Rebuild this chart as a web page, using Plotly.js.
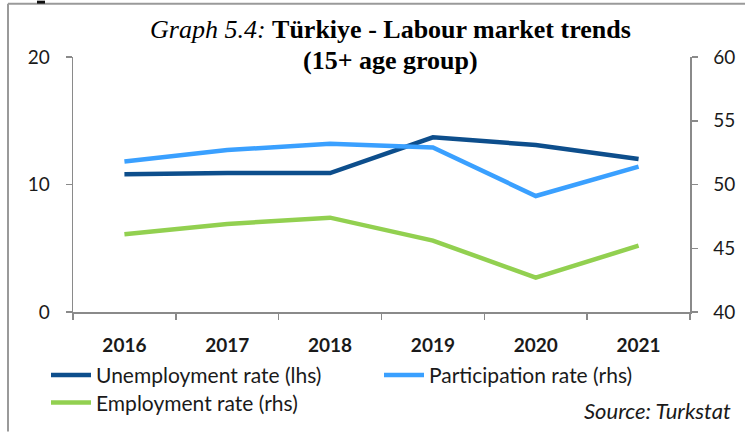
<!DOCTYPE html>
<html>
<head>
<meta charset="utf-8">
<script src="https://cdn.plot.ly/plotly-3.0.1.min.js"></script>
<style>
html,body{margin:0;padding:0;background:#fff;}
#chart{width:745px;height:436px;}
</style>
</head>
<body>
<div id="chart"></div>
<script>
const years = ["2016", "2017", "2018", "2019", "2020", "2021"];
const unemploymentRate = [10.8, 10.9, 10.9, 13.7, 13.1, 12.0];
const participationRate = [51.8, 52.7, 53.2, 52.9, 49.1, 51.4];
const employmentRate = [46.1, 46.9, 47.4, 45.6, 42.7, 45.2];
const seriesNames = ["Unemployment rate (lhs)", "Participation rate (rhs)", "Employment rate (rhs)"];
const titleLine1 = "<i>Graph 5.4:</i> <b>Türkiye - Labour market trends</b>";
const titleLine2 = "<b>(15+ age group)</b>";
const sourceText = "<i>Source: Turkstat</i>";

const W = 745, H = 436;
const L = 73, R = 55, T = 57, B = 121;
const pw = W - L - R, ph = H - T - B;
const px = x => (x - L) / pw;
const py = y => (H - B - y) / ph;

const axisGray = "#8a8a8a";
const txt = "#1a1a1a";
const sans = "Lato, 'Open Sans', sans-serif";
const serif = "'Liberation Serif', 'Times New Roman', serif";

const traces = [
  {x: years, y: unemploymentRate, name: seriesNames[0], type: "scatter", mode: "lines",
   line: {color: "#0d4e8c", width: 4.5}, yaxis: "y", legend: "legend"},
  {x: years, y: participationRate, name: seriesNames[1], type: "scatter", mode: "lines",
   line: {color: "#3aa0ff", width: 4.5}, yaxis: "y2", legend: "legend"},
  {x: years, y: employmentRate, name: seriesNames[2], type: "scatter", mode: "lines",
   line: {color: "#92d050", width: 4.5}, yaxis: "y2", legend: "legend2"}
];

const legendCommon = {
  orientation: "h", xanchor: "left", yanchor: "middle",
  font: {family: sans, size: 21, color: txt},
  bgcolor: "rgba(0,0,0,0)", itemwidth: 40, tracegroupgap: 0
};

const layout = {
  width: W, height: H,
  margin: {l: L, r: R, t: T, b: B, pad: 0},
  paper_bgcolor: "#fff", plot_bgcolor: "#fff",
  showlegend: true,
  xaxis: {
    type: "category", range: [-0.5, 5.5], tickson: "boundaries",
    showline: true, linecolor: axisGray, linewidth: 1.5,
    ticks: "outside", ticklen: 6, tickcolor: axisGray, tickwidth: 1.5,
    showgrid: false, zeroline: false,
    tickfont: {family: sans, size: 19, color: txt, weight: "bold"},
    ticklabelstandoff: 16
  },
  yaxis: {
    range: [0, 20], dtick: 10, tick0: 0,
    showline: true, linecolor: axisGray, linewidth: 1.5,
    ticks: "outside", ticklen: 6, tickcolor: axisGray, tickwidth: 1.5,
    showgrid: false, zeroline: false,
    tickfont: {family: sans, size: 19, color: txt},
    ticklabelstandoff: 12
  },
  yaxis2: {
    range: [40, 60], dtick: 5, tick0: 40, overlaying: "y", side: "right",
    showline: true, linecolor: axisGray, linewidth: 1.5,
    ticks: "outside", ticklen: 6, tickcolor: axisGray, tickwidth: 1.5,
    showgrid: false, zeroline: false,
    tickfont: {family: sans, size: 19, color: txt},
    ticklabelstandoff: 12
  },
  legend: Object.assign({}, legendCommon, {x: px(46), y: py(379), entrywidth: 278}),
  legend2: Object.assign({}, legendCommon, {x: px(46), y: py(407)}),
  annotations: [
    {xref: "paper", yref: "paper", x: px(390), y: py(29), xanchor: "center", yanchor: "middle",
     text: titleLine1, showarrow: false, font: {family: serif, size: 26, color: "#000"}},
    {xref: "paper", yref: "paper", x: px(390), y: py(61), xanchor: "center", yanchor: "middle",
     text: titleLine2, showarrow: false, font: {family: serif, size: 26, color: "#000"}},
    {xref: "paper", yref: "paper", x: px(733), y: py(415), xanchor: "right", yanchor: "middle",
     text: sourceText, showarrow: false, font: {family: sans, size: 22, color: txt}}
  ],
  shapes: [
    {type: "line", xref: "paper", yref: "paper", x0: px(8), x1: px(8), y0: py(3), y1: py(436),
     line: {color: "#9a9a9a", width: 2}},
    {type: "line", xref: "paper", yref: "paper", x0: px(8), x1: px(745), y0: py(3), y1: py(3),
     line: {color: "#9a9a9a", width: 2}},
    {type: "rect", xref: "paper", yref: "paper", x0: px(37), x1: px(45), y0: py(0), y1: py(3),
     fillcolor: "#111", line: {width: 0}}
  ]
};

Plotly.newPlot("chart", traces, layout, {displayModeBar: false, staticPlot: true});
</script>
</body>
</html>
